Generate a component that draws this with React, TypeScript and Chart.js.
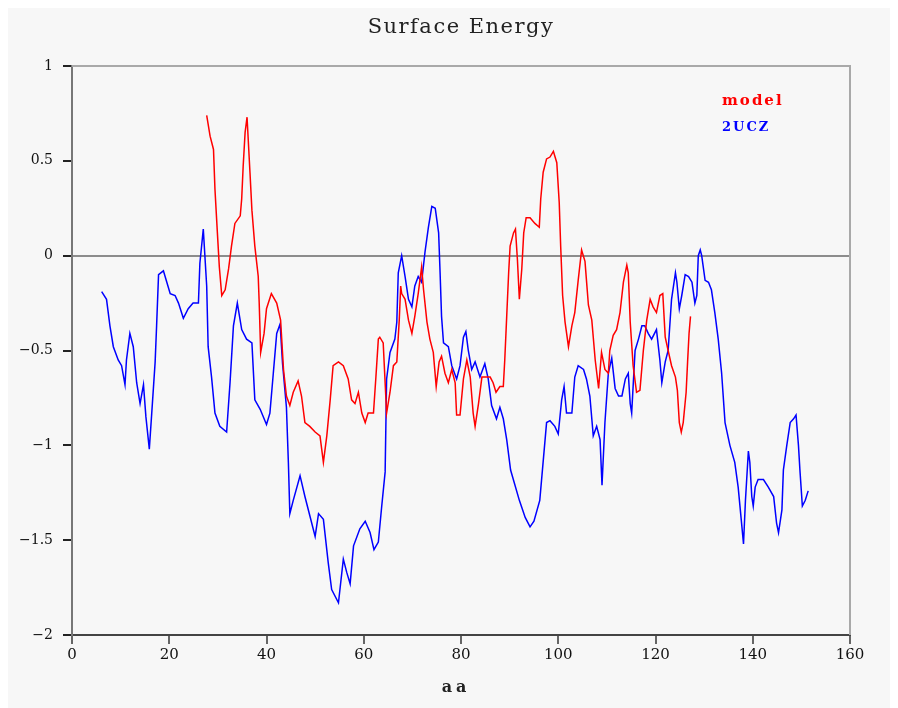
import { useEffect, useRef } from "react";
import { Chart, registerables } from "chart.js";

Chart.register(...registerables);

// Residue positions (aa) and surface energy for the model structure
const modelAa = [
  27.7, 28.4, 29.1, 29.4, 29.9, 30.3, 30.8, 31.5, 32.2, 32.8, 33.5, 34.6, 34.9, 35.2, 35.6, 36.0,
  36.6, 37.0, 37.6, 38.3, 38.5, 38.8, 39.5, 40.0, 41.0, 42.1, 42.9, 43.5, 44.1, 44.8, 45.5, 46.5,
  47.2, 47.9, 48.9, 50.0, 51.0, 51.7, 52.4, 53.1, 53.7, 54.8, 55.8, 56.8, 57.5, 58.2, 58.9, 59.6,
  60.3, 60.9, 62.0, 62.5, 63.0, 63.3, 64.0, 64.7, 65.4, 66.1, 66.8, 67.3, 67.6, 67.8, 68.5, 69.2,
  69.9, 70.5, 71.2, 71.9, 72.3, 73.0, 73.6, 74.3, 74.9, 75.5, 76.0, 76.7, 77.4, 78.1, 78.8, 79.1,
  79.8, 80.5, 81.2, 81.9, 82.5, 82.9, 83.6, 84.3, 84.9, 86.0, 86.6, 87.2, 88.0, 88.7, 89.0, 89.4,
  89.8, 90.1, 90.8, 91.2, 91.6, 92.0, 92.5, 92.9, 93.4, 94.2, 95.2, 96.1, 96.4, 96.9, 97.6, 98.3,
  99.0, 99.7, 100.2, 100.5, 100.9, 101.4, 102.1, 102.8, 103.4, 104.1, 104.8, 105.5, 106.2, 106.9,
  107.6, 108.3, 108.9, 109.6, 110.3, 110.6, 111.3, 112.0, 112.7, 113.4, 114.1, 114.4, 114.8, 115.4,
  116.1, 116.8, 117.5, 118.2, 118.9, 119.5, 120.2, 120.9, 121.5, 122.0, 122.6, 123.3, 124.1, 124.5,
  124.9, 125.3, 125.7, 126.3, 126.6, 126.9, 127.2,
];
const modelEnergy = [
  0.74, 0.63, 0.56, 0.35, 0.12, -0.06, -0.21, -0.18, -0.07, 0.05, 0.17, 0.21, 0.3, 0.47, 0.65, 0.73,
  0.44, 0.24, 0.05, -0.11, -0.25, -0.51, -0.41, -0.28, -0.2, -0.25, -0.34, -0.6, -0.74, -0.79, -0.72, -0.66,
  -0.74, -0.88, -0.9, -0.93, -0.95, -1.09, -0.95, -0.76, -0.58, -0.56, -0.58, -0.65, -0.76, -0.78, -0.72, -0.83,
  -0.88, -0.83, -0.83, -0.64, -0.44, -0.43, -0.46, -0.83, -0.72, -0.58, -0.56, -0.34, -0.16, -0.2, -0.23, -0.34,
  -0.41, -0.32, -0.2, -0.06, -0.18, -0.35, -0.44, -0.51, -0.69, -0.56, -0.53, -0.62, -0.67, -0.6, -0.67, -0.84,
  -0.84, -0.65, -0.55, -0.64, -0.83, -0.9, -0.78, -0.64, -0.64, -0.64, -0.67, -0.72, -0.69, -0.69, -0.55, -0.32,
  -0.09, 0.05, 0.12, 0.14, -0.02, -0.23, -0.07, 0.12, 0.2, 0.2, 0.17, 0.15, 0.3, 0.44, 0.51, 0.52,
  0.55, 0.49, 0.28, 0.05, -0.21, -0.35, -0.48, -0.37, -0.3, -0.13, 0.03, -0.03, -0.26, -0.34,
  -0.55, -0.7, -0.51, -0.6, -0.62, -0.5, -0.42, -0.39, -0.3, -0.14, -0.05, -0.09, -0.35, -0.58,
  -0.72, -0.71, -0.5, -0.34, -0.23, -0.27, -0.3, -0.21, -0.2, -0.43, -0.5, -0.58, -0.64, -0.71,
  -0.88, -0.93, -0.88, -0.72, -0.56, -0.41, -0.32,
];

// Residue positions (aa) and surface energy for the 2UCZ structure
const uczAa = [
  6.1, 7.1, 7.8, 8.5, 9.5, 10.2, 10.9, 11.2, 11.9, 12.6, 13.3, 14.0, 14.7, 15.2, 15.9, 16.4,
  17.1, 17.4, 17.8, 18.8, 19.5, 20.2, 21.2, 21.9, 22.9, 23.9, 24.9, 26.0, 26.3, 27.0, 27.7, 28.0,
  28.7, 29.4, 30.4, 31.8, 32.5, 33.2, 34.0, 34.9, 35.9, 37.0, 37.6, 38.7, 40.0, 40.7, 41.4, 42.1,
  42.8, 43.3, 44.1, 44.5, 44.8, 45.5, 46.9, 47.9, 48.9, 50.0, 50.7, 51.7, 52.7, 53.4, 54.8, 55.8,
  56.5, 57.2, 57.9, 59.2, 60.3, 61.3, 62.1, 63.0, 63.7, 64.4, 64.7, 65.4, 66.4, 66.8, 67.1, 67.8,
  68.5, 69.2, 69.9, 70.5, 71.2, 71.9, 72.6, 73.3, 74.0, 74.7, 75.4, 75.7, 76.0, 76.4, 77.4, 78.1,
  79.1, 79.8, 80.5, 81.0, 81.5, 82.2, 82.9, 83.9, 84.9, 85.6, 86.3, 87.3, 88.0, 88.7, 89.4, 90.2,
  92.0, 93.2, 94.2, 95.0, 96.2, 97.6, 98.3, 99.3, 100.0, 100.7, 101.2, 101.7, 102.8, 103.4, 104.1,
  105.2, 105.8, 106.5, 107.2, 107.9, 108.6, 109.0, 109.6, 110.3, 111.0, 111.7, 112.4, 113.1, 113.8,
  114.4, 114.8, 115.1, 115.8, 116.5, 117.2, 117.8, 118.5, 119.2, 120.2, 120.9, 121.3, 122.0, 122.6,
  123.3, 124.1, 124.4, 124.9, 125.4, 126.1, 126.8, 127.5, 128.1, 128.5, 128.8, 129.2, 129.5, 130.2,
  130.9, 131.5, 132.2, 132.9, 133.6, 134.3, 135.3, 136.3, 137.0, 137.7, 138.1, 138.5, 139.1, 139.4,
  139.8, 140.1, 140.5, 141.1, 142.2, 143.2, 144.3, 144.9, 145.3, 146.0, 146.3, 147.0, 147.7, 148.4,
  148.9, 149.4, 149.7, 150.2, 150.8, 151.4,
];
const uczEnergy = [
  -0.19, -0.23, -0.37, -0.48, -0.55, -0.58, -0.68, -0.55, -0.41, -0.48, -0.67, -0.78, -0.68, -0.85, -1.02, -0.83,
  -0.56, -0.37, -0.1, -0.08, -0.14, -0.2, -0.21, -0.25, -0.33, -0.28, -0.25, -0.25, -0.04, 0.14, -0.16, -0.48,
  -0.64, -0.83, -0.9, -0.93, -0.67, -0.37, -0.25, -0.39, -0.44, -0.46, -0.76, -0.81, -0.89, -0.83, -0.62, -0.41,
  -0.36, -0.57, -0.8, -1.09, -1.36, -1.29, -1.16, -1.27, -1.37, -1.48, -1.36, -1.39, -1.62, -1.76, -1.83, -1.6,
  -1.67, -1.73, -1.53, -1.44, -1.4, -1.46, -1.55, -1.51, -1.32, -1.14, -0.65, -0.51, -0.44, -0.35, -0.09, 0.0,
  -0.11, -0.23, -0.27, -0.16, -0.11, -0.14, 0.02, 0.15, 0.26, 0.25, 0.12, -0.09, -0.32, -0.46, -0.48, -0.58,
  -0.65, -0.58, -0.43, -0.4, -0.5, -0.6, -0.56, -0.64, -0.57, -0.65, -0.79, -0.86, -0.8, -0.86, -0.97, -1.13,
  -1.29, -1.38, -1.43, -1.4, -1.29, -0.88, -0.87, -0.9, -0.94, -0.76, -0.69, -0.83, -0.83, -0.64, -0.58,
  -0.6, -0.65, -0.74, -0.95, -0.9, -0.97, -1.21, -0.88, -0.62, -0.54, -0.7, -0.74, -0.74, -0.65,
  -0.62, -0.78, -0.83, -0.5, -0.44, -0.37, -0.37, -0.41, -0.44, -0.39, -0.55, -0.67, -0.56, -0.5,
  -0.23, -0.09, -0.14, -0.28, -0.21, -0.1, -0.11, -0.14, -0.25, -0.21, 0.0, 0.03, 0.0, -0.13,
  -0.14, -0.18, -0.3, -0.44, -0.62, -0.88, -1.0, -1.09, -1.22, -1.41, -1.52, -1.29, -1.03, -1.09,
  -1.27, -1.32, -1.22, -1.18, -1.18, -1.22, -1.27, -1.41, -1.46, -1.34, -1.13, -1.0, -0.88, -0.86,
  -0.84, -1.0, -1.13, -1.32, -1.29, -1.24,
];

const xRange = [0, 160];
const xStep = 20;
const yRange = [-2, 1];
const yStep = 0.5;

const seriesNames = ["model", "2UCZ"];
const seriesColors = ["#ff0000", "#0000ff"];
const chartTitle = "Surface Energy";
const xTitle = "aa";

const toPoints = (xs: number[], ys: number[]) => xs.map((x, i) => ({ x, y: ys[i] }));

// Negative tick labels use a true minus sign
const formatTick = (v: number) => (v < 0 ? "\u2212" + String(-v) : String(v));

// Frame, title, axis title and the coloured series labels
const annotations = {
  id: "annotations",
  afterDraw(chart: any) {
    const { ctx, chartArea: a } = chart;
    ctx.save();
    ctx.strokeStyle = "#a9a9a9";
    ctx.lineWidth = 2;
    ctx.beginPath();
    ctx.moveTo(a.left, a.top);
    ctx.lineTo(a.right, a.top);
    ctx.lineTo(a.right, a.bottom);
    ctx.stroke();

    ctx.textBaseline = "middle";
    ctx.textAlign = "center";
    ctx.fillStyle = "#222";
    ctx.font = '21px "DejaVu Serif"';
    (ctx as any).letterSpacing = "1.5px";
    ctx.fillText(chartTitle, (a.left + a.right) / 2, a.top - 38);

    ctx.font = 'bold 16px "DejaVu Serif"';
    (ctx as any).letterSpacing = "4px";
    ctx.fillText(xTitle, (a.left + a.right) / 2 - 5, a.bottom + 53);

    ctx.textAlign = "left";
    (ctx as any).letterSpacing = "2px";
    ctx.font = 'bold 15px "DejaVu Serif"';
    ctx.fillStyle = seriesColors[0];
    ctx.fillText(seriesNames[0], a.right - 128, a.top + 35);
    ctx.font = 'bold 13px "DejaVu Serif"';
    ctx.fillStyle = seriesColors[1];
    ctx.fillText(seriesNames[1], a.right - 128, a.top + 62);
    ctx.restore();
  },
};

export default function App() {
  const canvasRef = useRef<HTMLCanvasElement | null>(null);

  useEffect(() => {
    const canvas = canvasRef.current;
    if (!canvas) return;
    const chart = new Chart(canvas, {
      type: "line",
      data: {
        datasets: [
          {
            label: seriesNames[0],
            data: toPoints(modelAa, modelEnergy),
            borderColor: seriesColors[0],
            borderWidth: 1.5,
            pointRadius: 0,
            fill: false,
            tension: 0,
          },
          {
            label: seriesNames[1],
            data: toPoints(uczAa, uczEnergy),
            borderColor: seriesColors[1],
            borderWidth: 1.5,
            pointRadius: 0,
            fill: false,
            tension: 0,
          },
        ],
      },
      options: {
        animation: false,
        responsive: false,
        maintainAspectRatio: false,
        devicePixelRatio: 1,
        parsing: false,
        layout: { padding: { top: 58, right: 48, left: 0, bottom: 0 } },
        plugins: {
          legend: { display: false },
          tooltip: { enabled: false },
          title: { display: false },
        },
        scales: {
          x: {
            type: "linear",
            min: xRange[0],
            max: xRange[1],
            ticks: {
              stepSize: xStep,
              font: { family: '"DejaVu Serif"', size: 15 },
              color: "#111",
              padding: 2,
              maxRotation: 0,
            },
            grid: { drawOnChartArea: false, drawTicks: true, tickLength: 9, tickColor: "#666", lineWidth: 2 },
            border: { display: true, color: "#444", width: 2 },
            afterFit: (s: any) => {
              s.height = 73;
            },
          },
          y: {
            type: "linear",
            min: yRange[0],
            max: yRange[1],
            ticks: {
              stepSize: yStep,
              font: { family: '"DejaVu Serif"', size: 14 },
              color: "#111",
              padding: 10,
              callback: (v: any) => formatTick(Number(v)),
            },
            grid: {
              drawOnChartArea: true,
              drawTicks: true,
              tickLength: 9,
              tickColor: "#222",
              lineWidth: 2,
              color: (c: any) => (c.tick && c.tick.value === 0 ? "#8c8c8c" : "rgba(0,0,0,0)"),
            },
            border: { display: true, color: "#777", width: 2 },
            afterFit: (s: any) => {
              s.width = 64;
            },
          },
        },
      },
      plugins: [annotations],
    } as any);
    return () => chart.destroy();
  }, []);

  return (
    <div style={{ width: 890, height: 700, background: "#f7f7f7" }}>
      <canvas ref={canvasRef} width={890} height={700} style={{ display: "block" }} />
    </div>
  );
}
